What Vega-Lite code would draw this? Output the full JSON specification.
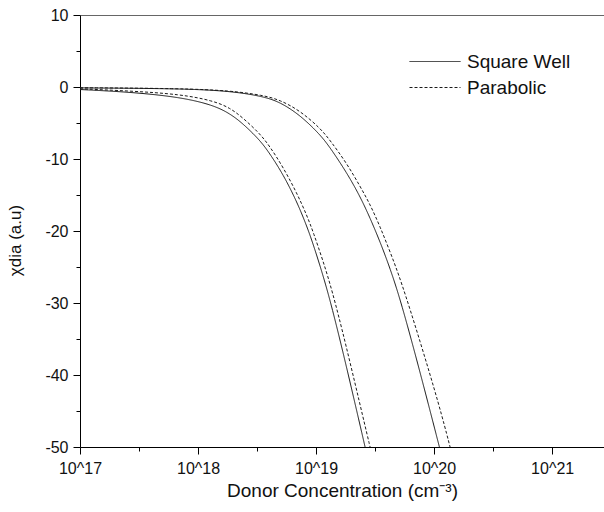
{
  "$schema": "https://vega.github.io/schema/vega-lite/v6.json",
  "width": 524,
  "height": 432,
  "autosize": {"type": "none"},
  "padding": {"left": 80, "top": 15, "right": 0, "bottom": 65},
  "background": "white",
  "config": {"view": {"stroke": null}, "font": "Liberation Sans", "axis": {"grid": false}},
  "data": {"values": [
    {"x": 1e17, "y": -0.35, "type": "Square Well", "group": "A"},
    {"x": 2.653e17, "y": -0.7, "type": "Square Well", "group": "A"},
    {"x": 7.04e17, "y": -1.4, "type": "Square Well", "group": "A"},
    {"x": 1.34e18, "y": -2.5, "type": "Square Well", "group": "A"},
    {"x": 1.867e18, "y": -3.7, "type": "Square Well", "group": "A"},
    {"x": 2.407e18, "y": -5.1, "type": "Square Well", "group": "A"},
    {"x": 3.353e18, "y": -7.4, "type": "Square Well", "group": "A"},
    {"x": 4.076e18, "y": -9.3, "type": "Square Well", "group": "A"},
    {"x": 5.283e18, "y": -12.2, "type": "Square Well", "group": "A"},
    {"x": 6.862e18, "y": -15.9, "type": "Square Well", "group": "A"},
    {"x": 8.34e18, "y": -19.3, "type": "Square Well", "group": "A"},
    {"x": 9.487e18, "y": -21.9, "type": "Square Well", "group": "A"},
    {"x": 1.153e19, "y": -26.3, "type": "Square Well", "group": "A"},
    {"x": 1.359e19, "y": -30.5, "type": "Square Well", "group": "A"},
    {"x": 1.762e19, "y": -38.0, "type": "Square Well", "group": "A"},
    {"x": 2.602e19, "y": -50, "type": "Square Well", "group": "A"},

    {"x": 1e17, "y": -0.25, "type": "Parabolic", "group": "A"},
    {"x": 2.653e17, "y": -0.55, "type": "Parabolic", "group": "A"},
    {"x": 7.04e17, "y": -1.0, "type": "Parabolic", "group": "A"},
    {"x": 1.34e18, "y": -1.9, "type": "Parabolic", "group": "A"},
    {"x": 1.867e18, "y": -2.9, "type": "Parabolic", "group": "A"},
    {"x": 2.407e18, "y": -4.3, "type": "Parabolic", "group": "A"},
    {"x": 3.353e18, "y": -6.5, "type": "Parabolic", "group": "A"},
    {"x": 4.076e18, "y": -8.3, "type": "Parabolic", "group": "A"},
    {"x": 5.283e18, "y": -11.2, "type": "Parabolic", "group": "A"},
    {"x": 6.862e18, "y": -14.7, "type": "Parabolic", "group": "A"},
    {"x": 8.34e18, "y": -17.8, "type": "Parabolic", "group": "A"},
    {"x": 9.487e18, "y": -20.2, "type": "Parabolic", "group": "A"},
    {"x": 1.153e19, "y": -24.3, "type": "Parabolic", "group": "A"},
    {"x": 1.359e19, "y": -28.1, "type": "Parabolic", "group": "A"},
    {"x": 1.762e19, "y": -35.3, "type": "Parabolic", "group": "A"},
    {"x": 2.602e19, "y": -47.1, "type": "Parabolic", "group": "A"},
    {"x": 2.869e19, "y": -50, "type": "Parabolic", "group": "A"},

    {"x": 1e17, "y": -0.12, "type": "Square Well", "group": "B"},
    {"x": 7.04e17, "y": -0.22, "type": "Square Well", "group": "B"},
    {"x": 1.867e18, "y": -0.55, "type": "Square Well", "group": "B"},
    {"x": 3.555e18, "y": -1.3, "type": "Square Well", "group": "B"},
    {"x": 4.953e18, "y": -2.1, "type": "Square Well", "group": "B"},
    {"x": 7.317e18, "y": -3.9, "type": "Square Well", "group": "B"},
    {"x": 1.081e19, "y": -6.6, "type": "Square Well", "group": "B"},
    {"x": 1.314e19, "y": -8.4, "type": "Square Well", "group": "B"},
    {"x": 1.82e19, "y": -11.9, "type": "Square Well", "group": "B"},
    {"x": 2.36e19, "y": -15.2, "type": "Square Well", "group": "B"},
    {"x": 2.869e19, "y": -18.2, "type": "Square Well", "group": "B"},
    {"x": 3.486e19, "y": -21.5, "type": "Square Well", "group": "B"},
    {"x": 4.239e19, "y": -25.2, "type": "Square Well", "group": "B"},
    {"x": 5.222e19, "y": -29.7, "type": "Square Well", "group": "B"},
    {"x": 7.61e19, "y": -39.6, "type": "Square Well", "group": "B"},
    {"x": 1.109e20, "y": -50, "type": "Square Well", "group": "B"},

    {"x": 1e17, "y": -0.1, "type": "Parabolic", "group": "B"},
    {"x": 7.04e17, "y": -0.2, "type": "Parabolic", "group": "B"},
    {"x": 1.867e18, "y": -0.5, "type": "Parabolic", "group": "B"},
    {"x": 3.555e18, "y": -1.15, "type": "Parabolic", "group": "B"},
    {"x": 4.953e18, "y": -1.8, "type": "Parabolic", "group": "B"},
    {"x": 7.317e18, "y": -3.3, "type": "Parabolic", "group": "B"},
    {"x": 1.081e19, "y": -5.7, "type": "Parabolic", "group": "B"},
    {"x": 1.314e19, "y": -7.4, "type": "Parabolic", "group": "B"},
    {"x": 1.82e19, "y": -10.6, "type": "Parabolic", "group": "B"},
    {"x": 2.36e19, "y": -13.8, "type": "Parabolic", "group": "B"},
    {"x": 2.869e19, "y": -16.3, "type": "Parabolic", "group": "B"},
    {"x": 3.486e19, "y": -19.4, "type": "Parabolic", "group": "B"},
    {"x": 4.239e19, "y": -22.9, "type": "Parabolic", "group": "B"},
    {"x": 5.222e19, "y": -26.8, "type": "Parabolic", "group": "B"},
    {"x": 7.61e19, "y": -35.3, "type": "Parabolic", "group": "B"},
    {"x": 1.109e20, "y": -44.3, "type": "Parabolic", "group": "B"},
    {"x": 1.366e20, "y": -50, "type": "Parabolic", "group": "B"}
  ]},
  "resolve": {"axis": {"x": "independent", "y": "independent"}},
  "layer": [
    {
      "mark": {"type": "line", "interpolate": "basis", "strokeWidth": 1, "color": "#1a1a1a"},
      "encoding": {
        "x": {
          "field": "x", "type": "quantitative",
          "scale": {"type": "log", "domain": [1e17, 2.75e21], "nice": false},
          "axis": {
            "orient": "bottom",
            "values": [1e17, 1e18, 1e19, 1e20, 1e21],
            "labelExpr": "'10^' + round(log(datum.value) / LN10)",
            "tickSize": 7, "tickColor": "#000", "domainColor": "#000",
            "labelFontSize": 16, "labelColor": "#111", "labelPadding": 6,
            "labelFlush": false, "labelOverlap": false,
            "title": "Donor Concentration (cm⁻³)",
            "titleFontSize": 19, "titleFontWeight": "normal", "titleColor": "#111", "titlePadding": 5
          }
        },
        "y": {
          "field": "y", "type": "quantitative",
          "scale": {"domain": [-50, 10], "nice": false, "zero": false},
          "axis": {
            "orient": "left",
            "values": [-50, -40, -30, -20, -10, 0, 10],
            "labelExpr": "'' + datum.value",
            "tickSize": 7, "tickColor": "#000", "domainColor": "#000",
            "labelFontSize": 16, "labelColor": "#111", "labelPadding": 5,
            "title": "χdia (a.u)",
            "titleFontSize": 17, "titleFontWeight": "normal", "titleColor": "#111",
            "titleX": -56, "titleY": 225
          }
        },
        "detail": {"field": "group", "type": "nominal"},
        "strokeDash": {
          "field": "type", "type": "nominal",
          "scale": {"domain": ["Square Well", "Parabolic"], "range": [[1, 0], [3, 2]]},
          "legend": {
            "orient": "none", "legendX": 329, "legendY": 37, "title": null,
            "symbolType": "stroke", "symbolSize": 2601, "symbolStrokeWidth": 1,
            "symbolStrokeColor": "#1a1a1a", "clipHeight": 19,
            "labelFontSize": 19, "labelColor": "#111", "labelOffset": 6, "rowPadding": 6
          }
        }
      }
    },
    {
      "mark": {"type": "point", "opacity": 0},
      "encoding": {
        "x": {
          "field": "x", "type": "quantitative",
          "axis": {
            "orient": "bottom",
            "values": [3.16227766e17, 3.16227766e18, 3.16227766e19, 3.16227766e20],
            "tickSize": 4, "tickColor": "#000", "labels": false, "domain": false, "title": null
          }
        },
        "y": {
          "field": "y", "type": "quantitative",
          "axis": {
            "orient": "left",
            "values": [-45, -35, -25, -15, -5, 5],
            "tickSize": 4, "tickColor": "#000", "labels": false, "domain": false, "title": null
          }
        }
      }
    },
    {
      "mark": {"type": "point", "opacity": 0},
      "encoding": {
        "x": {
          "field": "x", "type": "quantitative",
          "axis": {"orient": "top", "ticks": false, "labels": false, "domain": true, "domainColor": "#666", "title": null}
        },
        "y": {"field": "y", "type": "quantitative", "axis": null}
      }
    }
  ]
}
